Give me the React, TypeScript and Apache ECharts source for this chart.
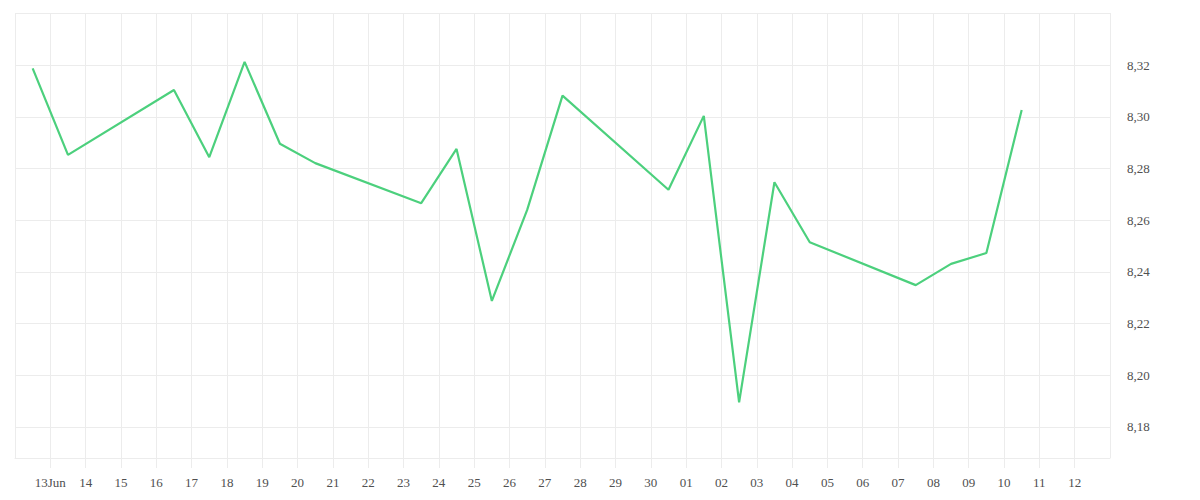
import React, { useEffect, useRef } from "react";
import * as echarts from "echarts";

// Trading days (each quote timestamped at midday)
const dates: string[] = [
  "2025-06-12", "2025-06-13", "2025-06-16", "2025-06-17", "2025-06-18",
  "2025-06-19", "2025-06-20", "2025-06-23", "2025-06-24", "2025-06-25",
  "2025-06-26", "2025-06-27", "2025-06-30", "2025-07-01", "2025-07-02",
  "2025-07-03", "2025-07-04", "2025-07-07", "2025-07-08", "2025-07-09",
  "2025-07-10",
];
const values: number[] = [
  8.3188, 8.2853, 8.3104, 8.2844, 8.3213,
  8.2896, 8.2821, 8.2666, 8.2876, 8.2288,
  8.2640, 8.3082, 8.2718, 8.3004, 8.1895,
  8.2747, 8.2515, 8.2349, 8.2431, 8.2473,
  8.3027,
];
// Day ticks from 13 Jun to 12 Jul
const tickLabels: string[] = [
  "13Jun", "14", "15", "16", "17", "18", "19", "20", "21", "22",
  "23", "24", "25", "26", "27", "28", "29", "30", "01", "02",
  "03", "04", "05", "06", "07", "08", "09", "10", "11", "12",
];
const axisStart = "2025-06-12T00:00:00Z";
const axisEnd = "2025-07-13T00:00:00Z";
const quoteTime = "T12:00:00Z";
const yMin = 8.168;
const yMax = 8.3402;
const yStep = 0.02;

const DAY = 86400000;

export default function App() {
  const ref = useRef<HTMLDivElement>(null);
  useEffect(() => {
    if (!ref.current) return;
    const chart = echarts.init(ref.current, undefined, { renderer: "svg" });
    const t0 = Date.parse(axisStart);
    const span = (Date.parse(axisEnd) - t0) / DAY;
    const data = dates.map((d, i) => [
      (Date.parse(d + quoteTime) - t0) / DAY,
      values[i],
    ]);
    const gridColor = "#ececec";
    const labelStyle = {
      color: "#505050",
      fontSize: 13,
      fontFamily: "Liberation Serif",
    };
    chart.setOption({
      animation: false,
      backgroundColor: "#ffffff",
      grid: { left: 15, right: 90, top: 13, bottom: 42, containLabel: false },
      xAxis: {
        type: "value",
        min: 0,
        max: span,
        interval: 1,
        axisLine: { show: true, lineStyle: { color: gridColor, width: 1 } },
        axisTick: { show: true, length: 10, lineStyle: { color: gridColor } },
        splitLine: { show: true, lineStyle: { color: gridColor, width: 1 } },
        axisLabel: {
          ...labelStyle,
          margin: 18,
          showMinLabel: false,
          showMaxLabel: false,
          formatter: (v: number) => {
            const idx = Math.round(v) - 1;
            return idx >= 0 && idx < tickLabels.length ? tickLabels[idx] : "";
          },
        },
      },
      yAxis: {
        type: "value",
        position: "right",
        min: yMin,
        max: yMax,
        splitNumber: 8,
        axisLine: { show: false },
        axisTick: { show: false },
        splitLine: { show: true, lineStyle: { color: gridColor, width: 1 } },
        axisLabel: {
          ...labelStyle,
          margin: 17,
          showMinLabel: false,
          showMaxLabel: false,
          formatter: (v: number) => {
            if (v < yMin + yStep * 0.6 - yStep * 0.1 && v < 8.175) return "";
            if (v > yMax - yStep * 0.5) return "";
            return v.toFixed(2).replace(".", ",");
          },
        },
      },
      series: [
        {
          type: "line",
          data,
          symbol: "none",
          smooth: false,
          lineStyle: { color: "#4cd07d", width: 2.2 },
          itemStyle: { color: "#4cd07d" },
        },
      ],
    });
    return () => chart.dispose();
  }, []);
  return (
    <div
      ref={ref}
      style={{ position: "fixed", left: 0, top: 0, width: 1200, height: 500 }}
    />
  );
}
